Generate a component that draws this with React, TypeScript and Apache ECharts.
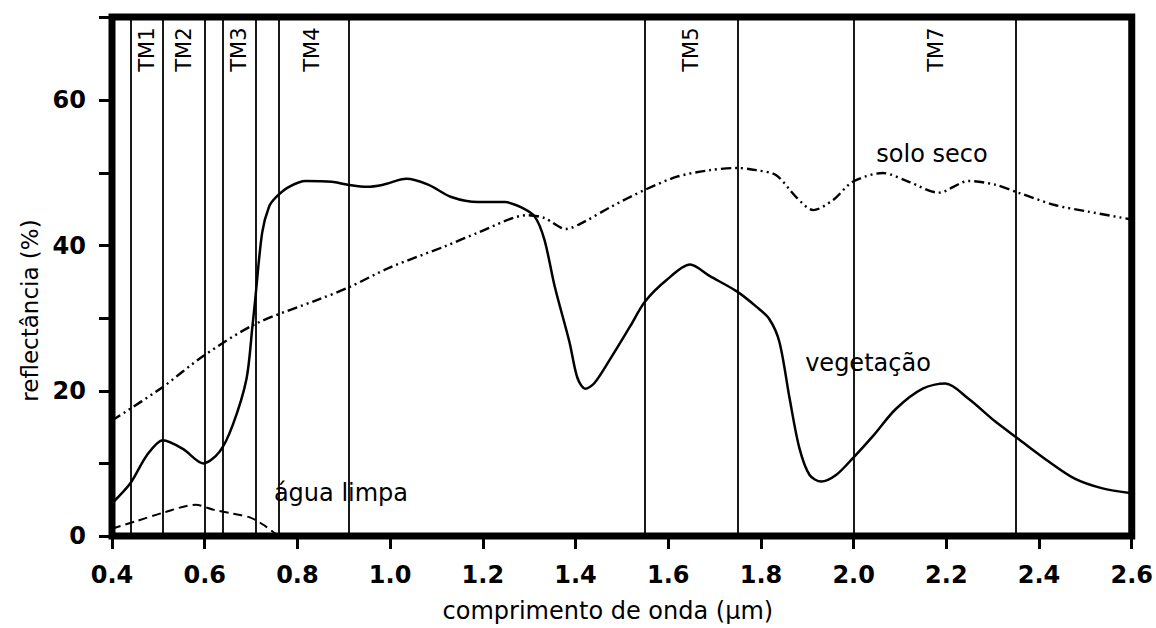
import React, { useEffect, useRef } from 'react';
import * as echarts from 'echarts';

// Spectral reflectance curves: [wavelength (µm), reflectance (%)]
const vegetacao: [number, number][] = [
  [0.40, 4.5], [0.44, 7.3], [0.475, 11.1], [0.51, 13.2], [0.553, 12.0], [0.597, 10.0],
  [0.632, 11.6], [0.66, 15.2], [0.69, 21.6], [0.703, 28.9], [0.709, 32.6], [0.724, 41.8],
  [0.739, 45.4], [0.754, 46.7], [0.782, 48.1], [0.818, 48.9], [0.874, 48.8], [0.909, 48.4],
  [0.95, 48.1], [0.985, 48.4], [1.035, 49.2], [1.082, 48.4], [1.132, 46.7], [1.19, 46.0],
  [1.248, 46.0], [1.282, 45.3], [1.312, 44.0], [1.333, 40.8], [1.355, 34.4], [1.387, 26.7],
  [1.404, 21.8], [1.421, 20.3], [1.44, 21.0], [1.475, 24.4], [1.518, 28.9], [1.55, 32.3],
  [1.597, 35.3], [1.647, 37.4], [1.69, 35.8], [1.748, 33.7], [1.79, 31.6], [1.818, 29.9],
  [1.84, 26.7], [1.862, 18.9], [1.883, 12.1], [1.905, 8.4], [1.93, 7.5], [1.962, 8.4],
  [1.998, 10.7], [2.042, 13.8], [2.091, 17.5], [2.149, 20.3], [2.198, 21.0], [2.248, 18.9],
  [2.305, 15.8], [2.355, 13.4], [2.42, 10.3], [2.477, 7.9], [2.535, 6.6], [2.6, 5.9],
];

const soloSeco: [number, number][] = [
  [0.40, 15.9], [0.509, 20.5], [0.597, 24.8], [0.709, 29.2], [0.846, 32.6], [0.909, 34.2],
  [1.0, 37.0], [1.118, 39.9], [1.19, 41.8], [1.297, 44.2], [1.333, 43.8], [1.379, 42.3],
  [1.419, 43.3], [1.475, 45.3], [1.55, 47.7], [1.619, 49.5], [1.69, 50.4], [1.748, 50.7],
  [1.79, 50.4], [1.833, 49.7], [1.876, 46.7], [1.913, 44.9], [1.956, 46.3], [1.998, 48.8],
  [2.063, 50.0], [2.119, 48.8], [2.183, 47.3], [2.248, 48.9], [2.305, 48.4], [2.355, 47.3],
  [2.434, 45.6], [2.505, 44.7], [2.6, 43.6],
];

const aguaLimpa: [number, number][] = [
  [0.40, 1.0], [0.45, 2.0], [0.51, 3.2], [0.58, 4.3], [0.62, 3.6], [0.66, 3.1],
  [0.70, 2.5], [0.73, 1.4], [0.755, 0.2],
];

// Landsat TM bands
const bandNames = ['TM1', 'TM2', 'TM3', 'TM4', 'TM5', 'TM7'];
const bandStart = [0.44, 0.51, 0.64, 0.755, 1.55, 2.0];
const bandEnd = [0.51, 0.60, 0.71, 0.91, 1.75, 2.355];

// Axis ticks
const yTickValues = [0, 10, 20, 30, 40, 50, 60, 71.5];
const yTickLabels = [0, 20, 40, 60];

const FONT = 'DejaVu Sans';

export default function App() {
  const ref = useRef<HTMLDivElement>(null);

  useEffect(() => {
    if (!ref.current) return;
    const chart = echarts.init(ref.current, undefined, { renderer: 'svg' });

    const edges = Array.from(new Set([...bandStart, ...bandEnd])).sort((a, b) => a - b);

    const labelStyle = {
      fontFamily: FONT, color: '#000000', textBorderWidth: 0, opacity: 1,
    };

    const option: any = {
      animation: false,
      backgroundColor: '#ffffff',
      textStyle: { fontFamily: FONT, color: '#000' },
      grid: {
        left: 112, right: 19, top: 17, bottom: 90,
        show: true, borderColor: '#000', borderWidth: 7, backgroundColor: 'transparent',
      },
      xAxis: {
        type: 'value', min: 0.4, max: 2.6, interval: 0.2,
        name: 'comprimento de onda (µm)', nameLocation: 'middle', nameGap: 63,
        nameTextStyle: { fontFamily: FONT, fontSize: 24, color: '#000', padding: [0, 28, 0, 0] },
        axisLine: { show: true, onZero: false, lineStyle: { color: '#000', width: 6 } },
        axisTick: { show: true, length: 13, lineStyle: { color: '#000', width: 3 } },
        axisLabel: {
          fontFamily: FONT, fontSize: 24, fontWeight: 'bold', color: '#000', margin: 27,
          formatter: (v: number) => v.toFixed(1),
        },
        splitLine: { show: false },
      },
      yAxis: {
        type: 'value', min: 0, max: 71.5,
        name: 'reflectância (%)', nameLocation: 'middle', nameGap: 70, nameRotate: 90,
        nameTextStyle: { fontFamily: FONT, fontSize: 23, color: '#000', padding: [0, 68, 0, 0] },
        axisLine: { show: true, onZero: false, lineStyle: { color: '#000', width: 6 } },
        axisTick: {
          show: true, length: 13, customValues: yTickValues,
          lineStyle: { color: '#000', width: 3 },
        },
        axisLabel: {
          fontFamily: FONT, fontSize: 24, fontWeight: 'bold', color: '#000', margin: 26,
          customValues: yTickLabels,
          formatter: (v: number) => String(v),
        },
        splitLine: { show: false },
      },
      series: [
        {
          name: 'bandas',
          type: 'scatter',
          silent: true,
          symbolSize: 0,
          itemStyle: { color: '#000' },
          data: bandNames.map((n, i) => ({ name: n, value: [(bandStart[i] + bandEnd[i]) / 2, 67] })),
          label: {
            show: true, position: 'inside', rotate: 90, formatter: '{b}',
            fontSize: 21, ...labelStyle,
          },
          markLine: {
            silent: true,
            symbol: ['none', 'none'],
            label: { show: false },
            lineStyle: { color: '#000', width: 1.8, type: 'solid', opacity: 1 },
            data: edges.map((e) => ({ xAxis: e })),
          },
          z: 1,
        },
        {
          name: 'vegetação',
          type: 'line',
          silent: true,
          data: vegetacao,
          smooth: 0.3,
          symbol: 'none',
          lineStyle: { color: '#000', width: 2.5 },
          z: 3,
        },
        {
          name: 'solo seco',
          type: 'line',
          silent: true,
          data: soloSeco,
          smooth: 0.3,
          symbol: 'none',
          lineStyle: { color: '#000', width: 2.4, type: [10, 4, 2, 4, 2, 4] },
          z: 3,
        },
        {
          name: 'água limpa',
          type: 'line',
          silent: true,
          data: aguaLimpa,
          smooth: 0.3,
          symbol: 'none',
          lineStyle: { color: '#000', width: 2, type: [9, 5] },
          z: 3,
        },
        {
          name: 'rótulos',
          type: 'scatter',
          silent: true,
          symbolSize: 0,
          itemStyle: { color: '#000' },
          data: [
            { name: 'solo seco', value: [2.169, 52.6] },
            { name: 'vegetação', value: [2.031, 23.9] },
            { name: 'água limpa', value: [0.894, 5.9] },
          ],
          label: {
            show: true, position: 'inside', formatter: '{b}',
            fontSize: 24, ...labelStyle,
          },
          z: 4,
        },
      ],
    };

    chart.setOption(option);
    return () => chart.dispose();
  }, []);

  return (
    <div
      ref={ref}
      style={{ position: 'fixed', left: 0, top: 0, width: 1156, height: 628, background: '#fff' }}
    />
  );
}
